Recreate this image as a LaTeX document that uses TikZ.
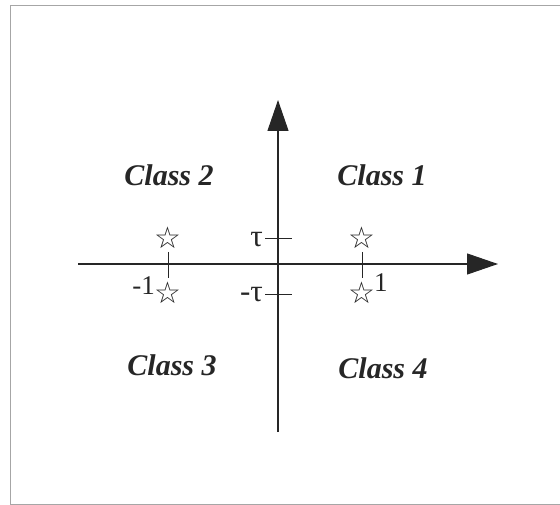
\documentclass[tikz,border=0pt]{standalone}
\usepackage{fontspec}
\setmainfont{Liberation Serif}
\newfontfamily\symfont{DejaVu Sans}
\usetikzlibrary{arrows.meta}
\begin{document}
\begin{tikzpicture}[x=1pt,y=-1pt,
 axis/.style={line width=1.1pt, draw=black!85, -{Triangle[length=31pt,width=21pt]}},
 cls/.style={font=\fontsize{30}{32}\selectfont\bfseries\itshape, text=black!85, inner sep=0pt},
 lbl/.style={font=\fontsize{27}{29}\selectfont, inner sep=0pt, text=black!85},
 taulbl/.style={font=\fontsize{31}{33}\selectfont, inner sep=0pt, text=black!85},
 star/.style={font=\symfont\fontsize{30}{30}\selectfont, inner sep=0pt, text=black!85},
 tickmark/.style={line width=0.9pt, draw=black!85}]
\useasboundingbox (0,0) rectangle (560,505);
\draw[gray!70, line width=0.8pt] (560,5) -- (10,5) -- (10,504) -- (560,504);
% axes
\coordinate (xs) at (78,264);
\coordinate (xe) at (498,264);
\coordinate (ys) at (278,432);
\coordinate (ye) at (278,100);
\draw[axis] (xs) -- (xe);
\draw[axis] (ys) -- (ye);
% class labels
\node[cls] (c2) at (169,175) {Class 2};
\node[cls] (c1) at (382,175) {Class 1};
\node[cls] (c3) at (172,365) {Class 3};
\node[cls] (c4) at (383,368) {Class 4};
% tau ticks
\coordinate (ta) at (265,238);
\coordinate (tb) at (292,238);
\coordinate (ua) at (265,294);
\coordinate (ub) at (292,294);
\draw[tickmark] (ta) -- (tb);
\draw[tickmark] (ua) -- (ub);
\node[taulbl, anchor=east] (tau) at (263,240) {τ};
\node[taulbl, anchor=east] (mtau) at (263,295) {-τ};
% stars
\node[star] (s1) at (168,238) {☆};
\node[star] (s2) at (168,293) {☆};
\node[star] (s3) at (362,238) {☆};
\node[star] (s4) at (362,293) {☆};
% ticks at -1 and 1
\coordinate (la) at (168,252);
\coordinate (lb) at (168,278);
\draw[tickmark] (la) -- (lb);
\coordinate (ra) at (362,252);
\coordinate (rb) at (362,278);
\draw[tickmark] (ra) -- (rb);
\node[lbl, anchor=east] (m1) at (155,286) {-1};
\node[lbl, anchor=west] (p1) at (374,283) {1};
\end{tikzpicture}
\end{document}
